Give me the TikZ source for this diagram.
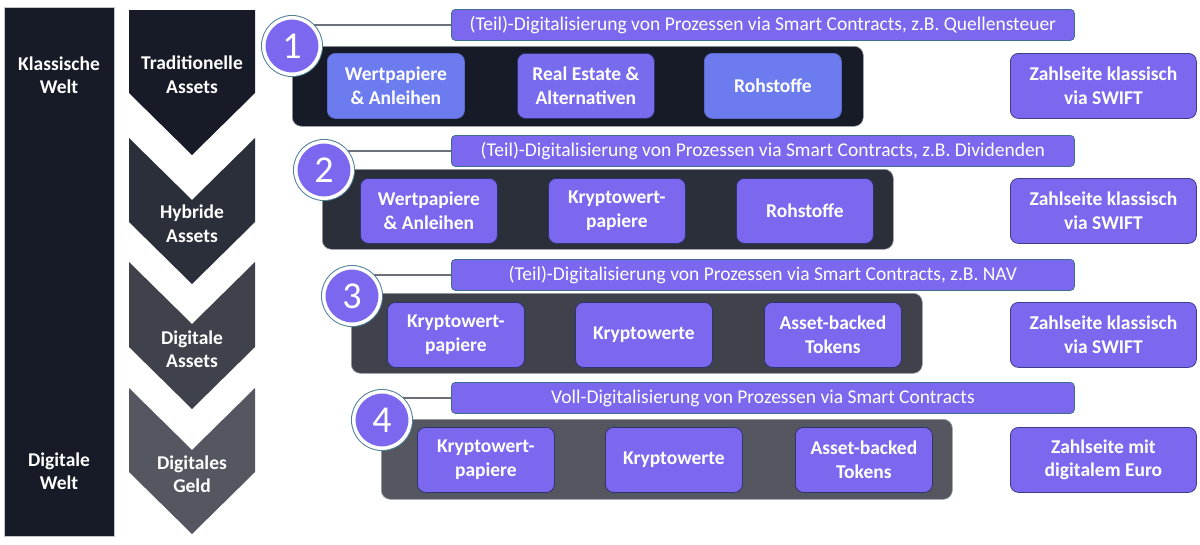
\documentclass[tikz,border=0pt]{standalone}
\usepackage{fontspec}
\setmainfont{Carlito}
\definecolor{navy}{HTML}{161B27}
\definecolor{chB}{HTML}{2B2F3A}
\definecolor{chC}{HTML}{3F424B}
\definecolor{chD}{HTML}{54575F}
\definecolor{purp}{HTML}{7B68EE}
\definecolor{bluep}{HTML}{6C7CEE}
\definecolor{boxline}{HTML}{2E3470}
\definecolor{banline}{HTML}{3F6F8F}
\definecolor{ringc}{HTML}{4F8096}
\definecolor{connc}{HTML}{6B7078}
\definecolor{panline}{HTML}{9A9EA6}
\tikzset{
  tx/.style={text=white, font=\bfseries\fontsize{19.5}{23.5}\selectfont, align=center},
  panelbox/.style={rounded corners=9pt, draw=panline, line width=0.6pt, minimum width=571pt, minimum height=80pt, inner sep=0pt, anchor=north west},
  abox/.style={tx, rounded corners=8pt, fill=purp, draw=boxline, line width=0.8pt, minimum width=137pt, minimum height=65pt, inner sep=0pt, anchor=north west},
  bbox/.style={abox, fill=bluep, draw=bluep!85!black},
  zbox/.style={abox, minimum width=186pt, draw=boxline!80!purp},
  banner/.style={rounded corners=4pt, fill=purp, draw=banline, line width=0.8pt, text=white, font=\fontsize{19.5}{23.5}\selectfont, minimum width=623pt, minimum height=31pt, inner sep=0pt, anchor=north west},
  numc/.style={circle, fill=purp, draw=white, line width=3.5pt, minimum size=56.5pt, inner sep=0pt, text=white, font=\fontsize{38}{38}\selectfont, preaction={draw=ringc, line width=5.5pt}},
  conn/.style={draw=connc, line width=1.5pt}
}
\begin{document}
\begin{tikzpicture}[x=1pt,y=-1pt]
\useasboundingbox (0,0) rectangle (1200,544);
% left bar
\node[fill=navy, draw=panline!60, line width=0.5pt, minimum width=110pt, minimum height=529pt, inner sep=0pt, anchor=north west] (bar) at (4,7) {};
\node[tx] (kw) at (59,75) {Klassische\\Welt};
\node[tx] (dw) at (59,471) {Digitale\\Welt};
% chevrons
\fill[navy] (129,10) -- (255,10) -- (255,93) -- (192,155) -- (129,93) -- cycle;
\fill[chB] (129,138) -- (192,200) -- (255,138) -- (255,222) -- (192,284) -- (129,222) -- cycle;
\fill[chC] (129,262) -- (192,324) -- (255,262) -- (255,347) -- (192,409) -- (129,347) -- cycle;
\fill[chD] (129,388) -- (192,450) -- (255,388) -- (255,472) -- (192,534) -- (129,472) -- cycle;
\node[tx] (ta) at (192,74.5) {Traditionelle\\Assets};
\node[tx] (ha) at (192,223.5) {Hybride\\Assets};
\node[tx] (da) at (192,349) {Digitale\\Assets};
\node[tx] (dg) at (192,474) {Digitales\\Geld};
% row 1
\node[panelbox, fill=navy] (p1) at (292,46) {};
\node[bbox] (r1a) at (327,53) {Wertpapiere\\\& Anleihen};
\node[abox, fill=purp!85!bluep] (r1b) at (517,53) {Real Estate \&\\Alternativen};
\node[bbox] (r1c) at (704,53) {Rohstoffe};
\node[zbox] (z1) at (1010,53) {Zahlseite klassisch\\via SWIFT};
\node[banner] (b1) at (451,9) {(Teil)-Digitalisierung von Prozessen via Smart Contracts, z.B. Quellensteuer};
\coordinate (cc1) at (292,46);
\draw[conn] (b1.west) -- (b1.west -| cc1);
\node[numc] (c1) at (cc1) {1};
% row 2
\node[panelbox, fill=chB] (p2) at (322,169) {};
\node[abox] (r2a) at (360,178) {Wertpapiere\\\& Anleihen};
\node[abox] (r2b) at (548,178) {Kryptowert-\\papiere};
\node[abox] (r2c) at (736,178) {Rohstoffe};
\node[zbox] (z2) at (1010,178) {Zahlseite klassisch\\via SWIFT};
\node[banner] (b2) at (451,135) {(Teil)-Digitalisierung von Prozessen via Smart Contracts, z.B. Dividenden};
\coordinate (cc2) at (324,170);
\draw[conn] (b2.west) -- (b2.west -| cc2);
\node[numc] (c2) at (cc2) {2};
% row 3
\node[panelbox, fill=chC] (p3) at (351,293) {};
\node[abox] (r3a) at (387,302) {Kryptowert-\\papiere};
\node[abox] (r3b) at (575,302) {Kryptowerte};
\node[abox] (r3c) at (764,302) {Asset-backed\\Tokens};
\node[zbox] (z3) at (1010,302) {Zahlseite klassisch\\via SWIFT};
\node[banner] (b3) at (451,259) {(Teil)-Digitalisierung von Prozessen via Smart Contracts, z.B. NAV};
\coordinate (cc3) at (352,296);
\draw[conn] (b3.west) -- (b3.west -| cc3);
\node[numc] (c3) at (cc3) {3};
% row 4
\node[panelbox, fill=chD] (p4) at (381,419) {};
\node[abox] (r4a) at (417,427) {Kryptowert-\\papiere};
\node[abox] (r4b) at (605,427) {Kryptowerte};
\node[abox] (r4c) at (795,427) {Asset-backed\\Tokens};
\node[zbox] (z4) at (1010,427) {Zahlseite mit\\digitalem Euro};
\node[banner] (b4) at (451,382) {Voll-Digitalisierung von Prozessen via Smart Contracts};
\coordinate (cc4) at (382,420);
\draw[conn] (b4.west) -- (b4.west -| cc4);
\node[numc] (c4) at (cc4) {4};
\end{tikzpicture}
\end{document}
